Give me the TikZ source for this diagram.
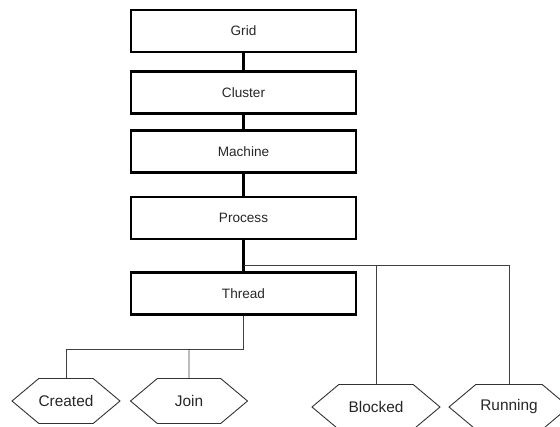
\documentclass[tikz,border=0pt]{standalone}
\usepackage{fontspec}
\setmainfont{Liberation Sans}
\usetikzlibrary{positioning,shapes.symbols}
\tikzset{
    level box/.style={draw, line width=2.7pt, minimum width=225pt,
        minimum height=42pt, inner sep=0pt,
        font=\fontsize{13.6}{16}\selectfont},
    state/.style={draw=black!80, line width=0.9pt, signal,
        signal to=west and east, signal pointer angle=80,
        minimum width=108pt, minimum height=45pt, inner sep=0pt,
        inner xsep=-25pt, font=\fontsize{15.4}{18}\selectfont}
}

\begin{document}
\begin{tikzpicture}[x=1pt,y=-1pt,
    every node/.append style={text=black!85}]
\tikzstyle{link}=[line width=2.7pt]
\tikzstyle{branch}=[line width=0.9pt, draw=black!75]

\useasboundingbox (0,0) rectangle (560,427);

\node[level box] (grid) at (243.5,31) {Grid};
\node[level box, below=17pt of grid] (cluster) {Cluster};
\node[level box, below=14pt of cluster] (machine) {Machine};
\node[level box, below=22pt of machine] (process) {Process};
\node[level box, below=31pt of process] (thread) {Thread};

\node[state] (created) at (66,401) {Created};
\node[state, minimum width=117pt] (join) at (189,401) {Join};
\node[state, minimum width=128pt] (blocked) at (376,407) {Blocked};
\node[state, minimum width=120pt] (running) at (509,407) {Running};

\draw[link] (grid) -- (cluster);
\draw[link] (cluster) -- (machine);
\draw[link] (machine) -- (process);
\draw[link] (process) -- (thread);

\coordinate (fork) at (243.5,265);
\draw[branch] (fork) -| (blocked);
\draw[branch] (fork) -| (running);

\coordinate (bus) at (243.5,349);
\coordinate (joinbus) at (bus -| join);
\draw[branch] (thread) -- (bus) -| (created);
\draw[branch] (joinbus) -- (join);
\end{tikzpicture}
\end{document}
